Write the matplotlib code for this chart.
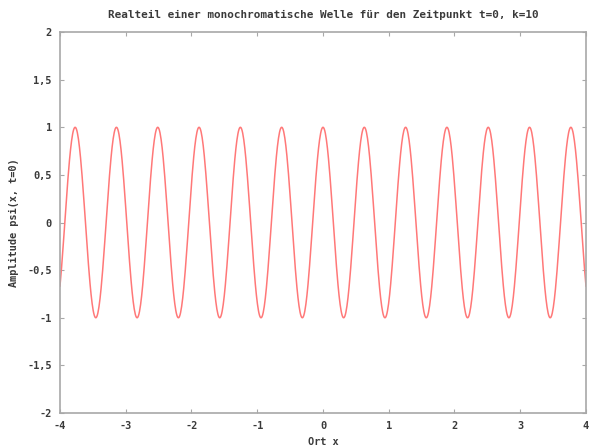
import matplotlib
matplotlib.use("Agg")
import matplotlib.pyplot as plt
import numpy as np

# wave parameters read from the title: t=0, k=10
K = 10
T = 0
X_RANGE = (-4, 4)
N_SAMPLES = 1000

x_ticks = [-4, -3, -2, -1, 0, 1, 2, 3, 4]
y_ticks = [-2, -1.5, -1, -0.5, 0, 0.5, 1, 1.5, 2]


def fmt(v):
    # gnuplot with german decimal comma
    return ('%g' % v).replace('.', ',')


x = np.linspace(X_RANGE[0], X_RANGE[1], N_SAMPLES)
psi = np.cos(K * x - T)

plt.rcParams['font.family'] = 'DejaVu Sans Mono'
plt.rcParams['font.weight'] = 'bold'
plt.rcParams['font.size'] = 7.4

fig = plt.figure(figsize=(5.94, 4.48), dpi=100)
ax = fig.add_axes([0.101, 0.078, 0.8855, 0.8506])

ax.plot(x, psi, color='#ff7878', linewidth=1.1)

ax.set_xlim(*X_RANGE)
ax.set_ylim(-2, 2)
ax.set_xticks(x_ticks)
ax.set_xticklabels([fmt(v) for v in x_ticks])
ax.set_yticks(y_ticks)
ax.set_yticklabels([fmt(v) for v in y_ticks])

for s in ax.spines.values():
    s.set_color('#a8a8a8')
    s.set_linewidth(1.2)
ax.tick_params(direction='in', length=3, color='#a8a8a8', top=True, right=True,
               labelcolor='#3a3a3a', pad=6)

ax.set_title('Realteil einer monochromatische Welle für den Zeitpunkt t=0, k=10',
             fontsize=7.9, fontweight='bold', color='#3a3a3a', pad=10)
ax.set_xlabel('Ort x', fontweight='bold', color='#3a3a3a', labelpad=4)
ax.set_ylabel('Amplitude psi(x, t=0)', fontweight='bold', color='#3a3a3a', labelpad=6)

fig.savefig('out.png', dpi=100)
